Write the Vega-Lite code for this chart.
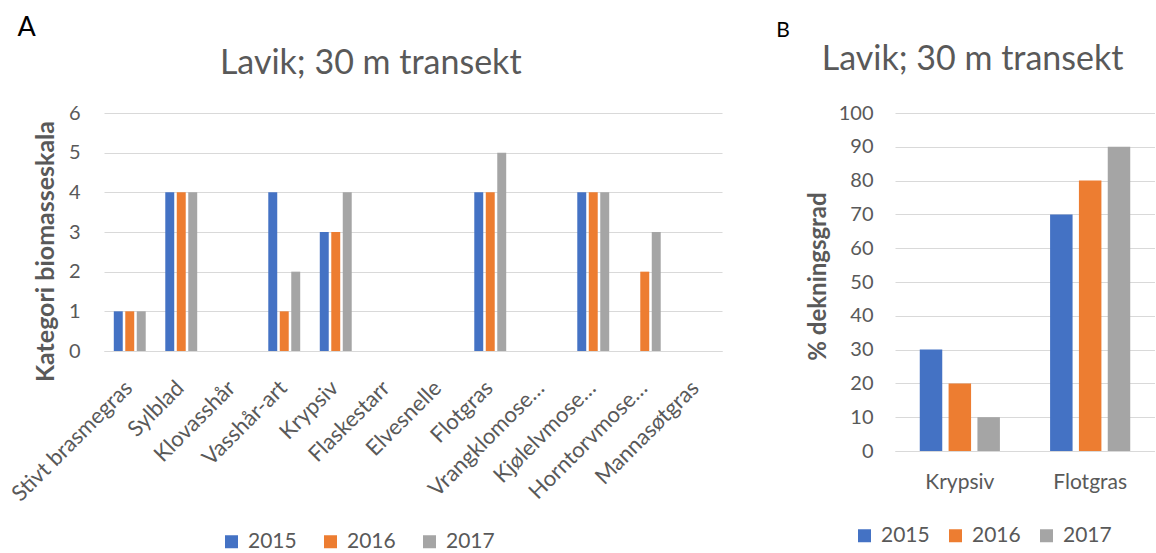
{
  "$schema": "https://vega.github.io/schema/vega-lite/v6.json",
  "padding": {"left": 7, "top": 14, "right": 0, "bottom": 0},
  "background": "white",
  "config": {
    "font": "Lato",
    "view": {"stroke": null},
    "axis": {
      "labelColor": "#595959",
      "titleColor": "#595959",
      "labelFont": "Lato",
      "titleFont": "Lato",
      "gridColor": "#D9D9D9",
      "domainColor": "#D9D9D9",
      "ticks": false
    },
    "legend": {"labelColor": "#595959", "labelFont": "Lato"},
    "title": {"font": "Lato", "color": "#595959", "fontWeight": "normal"}
  },
  "datasets": {
    "biomasse": [
      {"art": "Stivt brasmegras", "år": "2015", "verdi": 1},
      {"art": "Stivt brasmegras", "år": "2016", "verdi": 1},
      {"art": "Stivt brasmegras", "år": "2017", "verdi": 1},
      {"art": "Sylblad", "år": "2015", "verdi": 4},
      {"art": "Sylblad", "år": "2016", "verdi": 4},
      {"art": "Sylblad", "år": "2017", "verdi": 4},
      {"art": "Vasshår-art", "år": "2015", "verdi": 4},
      {"art": "Vasshår-art", "år": "2016", "verdi": 1},
      {"art": "Vasshår-art", "år": "2017", "verdi": 2},
      {"art": "Krypsiv", "år": "2015", "verdi": 3},
      {"art": "Krypsiv", "år": "2016", "verdi": 3},
      {"art": "Krypsiv", "år": "2017", "verdi": 4},
      {"art": "Flotgras", "år": "2015", "verdi": 4},
      {"art": "Flotgras", "år": "2016", "verdi": 4},
      {"art": "Flotgras", "år": "2017", "verdi": 5},
      {"art": "Kjølelvmose…", "år": "2015", "verdi": 4},
      {"art": "Kjølelvmose…", "år": "2016", "verdi": 4},
      {"art": "Kjølelvmose…", "år": "2017", "verdi": 4},
      {"art": "Horntorvmose…", "år": "2016", "verdi": 2},
      {"art": "Horntorvmose…", "år": "2017", "verdi": 3}
    ],
    "dekning": [
      {"art": "Krypsiv", "år": "2015", "verdi": 30},
      {"art": "Krypsiv", "år": "2016", "verdi": 20},
      {"art": "Krypsiv", "år": "2017", "verdi": 10},
      {"art": "Flotgras", "år": "2015", "verdi": 70},
      {"art": "Flotgras", "år": "2016", "verdi": 80},
      {"art": "Flotgras", "år": "2017", "verdi": 90}
    ]
  },
  "spacing": 54,
  "resolve": {"scale": {"color": "independent", "x": "independent", "y": "independent", "xOffset": "independent"}, "legend": {"color": "independent"}},
  "hconcat": [
    {
      "title": {"text": "A", "anchor": "start", "frame": "bounds", "fontSize": 27, "color": "black", "dx": 10, "offset": 5},
      "vconcat": [
        {
          "width": 618,
          "height": 238,
          "title": {"text": "Lavik; 30 m transekt", "fontSize": 34, "offset": 22, "frame": "bounds", "dx": 6},
          "data": {"name": "biomasse"},
          "mark": {"type": "bar"},
          "encoding": {
            "x": {
              "field": "art", "type": "nominal",
              "scale": {"domain": ["Stivt brasmegras", "Sylblad", "Klovasshår", "Vasshår-art", "Krypsiv", "Flaskestarr", "Elvesnelle", "Flotgras", "Vrangklomose…", "Kjølelvmose…", "Horntorvmose…", "Mannasøtgras"], "paddingInner": 0.38, "paddingOuter": 0.19},
              "axis": {"title": null, "labelAngle": -45, "labelAlign": "right", "labelBaseline": "top", "labelFontSize": 22, "labelPadding": 26, "labelOffset": -8, "labelLimit": 220}
            },
            "xOffset": {"field": "år", "type": "nominal", "scale": {"paddingInner": 0.22}},
            "y": {
              "field": "verdi", "type": "quantitative",
              "scale": {"domain": [0, 6]},
              "axis": {"title": "Kategori biomasseskala", "titleFontSize": 25, "titleFontWeight": "bold", "titlePadding": 10, "titleY": 138, "labelFontSize": 20, "labelPadding": 24, "domain": false, "values": [0, 1, 2, 3, 4, 5, 6], "labelOverlap": false}
            },
            "color": {
              "field": "år", "type": "nominal",
              "scale": {"domain": ["2015", "2016", "2017"], "range": ["#4472C4", "#ED7D31", "#A5A5A5"]},
              "legend": {"title": null, "orient": "none", "direction": "horizontal", "legendX": 117, "legendY": 418, "symbolType": "square", "symbolSize": 169, "symbolStrokeWidth": 0, "labelFontSize": 21, "labelOffset": 6, "columnPadding": 23}
            }
          }
        }
      ]
    },
    {
      "title": {"text": "B", "anchor": "start", "frame": "bounds", "fontSize": 21, "color": "black", "dx": -30, "dy": 4, "offset": 6},
      "vconcat": [
        {
          "width": 260,
          "height": 338,
          "title": {"text": "Lavik; 30 m transekt", "fontSize": 34, "offset": 26, "frame": "bounds", "dx": -8},
          "data": {"name": "dekning"},
          "mark": {"type": "bar"},
          "encoding": {
            "x": {
              "field": "art", "type": "nominal",
              "scale": {"domain": ["Krypsiv", "Flotgras"], "paddingInner": 0.385, "paddingOuter": 0.19},
              "axis": {"title": null, "labelAngle": 0, "labelFontSize": 21, "labelPadding": 20}
            },
            "xOffset": {"field": "år", "type": "nominal", "scale": {"paddingInner": 0.22}},
            "y": {
              "field": "verdi", "type": "quantitative",
              "scale": {"domain": [0, 100]},
              "axis": {"title": "% dekningsgrad", "titleFontSize": 24, "titleFontWeight": "bold", "titlePadding": 8, "titleY": 163, "labelFontSize": 20, "labelPadding": 22, "domain": false, "values": [0, 10, 20, 30, 40, 50, 60, 70, 80, 90, 100], "labelOverlap": false}
            },
            "color": {
              "field": "år", "type": "nominal",
              "scale": {"domain": ["2015", "2016", "2017"], "range": ["#4472C4", "#ED7D31", "#A5A5A5"]},
              "legend": {"title": null, "orient": "none", "direction": "horizontal", "legendX": -41, "legendY": 412, "symbolType": "square", "symbolSize": 169, "symbolStrokeWidth": 0, "labelFontSize": 21, "labelOffset": 6, "columnPadding": 15}
            }
          }
        }
      ]
    }
  ]
}
